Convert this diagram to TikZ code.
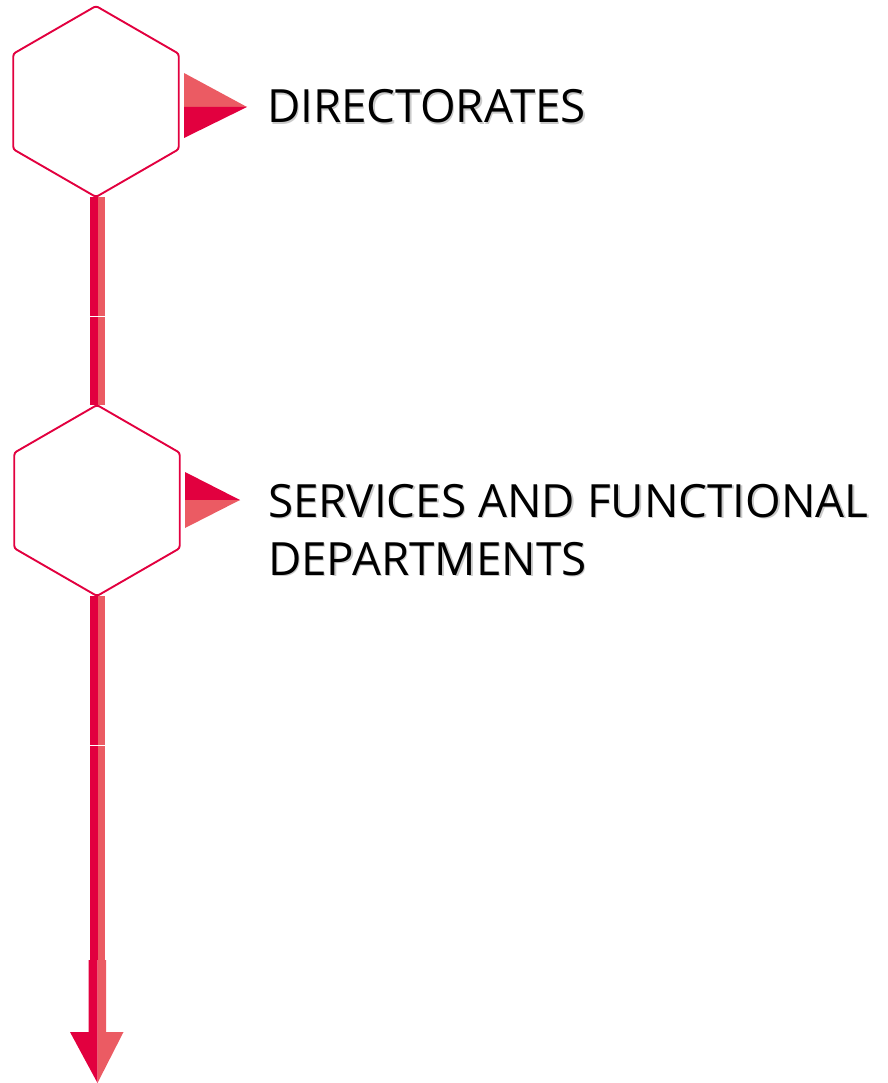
\documentclass[tikz,border=0pt]{standalone}
\usepackage{fontspec}
\setmainfont{Open Sans}
\usetikzlibrary{shapes.geometric,calc}
\definecolor{dk}{RGB}{226,0,63}
\definecolor{lt}{RGB}{235,91,99}
\tikzset{
  hexbox/.style={regular polygon, regular polygon sides=6, regular polygon rotate=30,
    minimum size=191pt, inner sep=0pt, outer sep=0pt, draw=dk, line width=1.9pt,
    rounded corners=2.5pt, fill=white},
  lbl/.style={inner sep=0pt, outer sep=0pt, anchor=base west, align=left,
    font=\fontsize{45.8}{58}\selectfont},
  shadowlbl/.style={lbl, text=black!35, opacity=0.6},
}
\begin{document}
\begin{tikzpicture}[x=1pt,y=-1pt]
\useasboundingbox (0,0) rectangle (887,1083);
% connectors (under hexagons)
\coordinate (h1b) at (97.5,197);
\coordinate (h2t) at (97.5,405);
\coordinate (h2b) at (97.5,596);
\coordinate (sh) at (97.5,960);
\coordinate (tip) at (97.5,1083);
% bar 1
\fill[dk] ($(h1b)+(-7.5,0)$) rectangle (h2t);
\fill[lt] (h1b) rectangle ($(h2t)+(7.5,0)$);
\draw[white,line width=0.8pt] (89,316.5) -- (106,316.5);
% bar 2
\fill[dk] ($(h2b)+(-7.5,0)$) rectangle (sh);
\fill[lt] (h2b) rectangle ($(sh)+(7.5,0)$);
\draw[white,line width=0.8pt] (89,745.5) -- (106,745.5);
% arrow
\fill[dk] (88.5,960) -- (97.7,960) -- (97.7,1032) -- (tip) -- (70,1032) -- (88.5,1032) -- cycle;
\fill[lt] (97.5,960) -- (106,960) -- (106,1032) -- (123.5,1032) -- (tip) -- cycle;
% hexagons
\node[hexbox] (h1) at (96,101.5) {};
\node[hexbox] (h2) at (97,500.5) {};
% flags
\fill[lt] (184,73) -- (247,107) -- (184,107) -- cycle;
\fill[dk] (184,107) -- (247,107) -- (184,138) -- cycle;
\fill[dk] (185,472) -- (240,500) -- (185,500) -- cycle;
\fill[lt] (185,500) -- (240,500) -- (185,528) -- cycle;
% labels
\node[shadowlbl] at (268.5,124.5) {DIRECTORATES};
\node[lbl] (t1) at (267,123) {DIRECTORATES};
\node[shadowlbl] at (269.5,576.5) {SERVICES AND FUNCTIONAL\\DEPARTMENTS};
\node[lbl] (t2) at (268,575) {SERVICES AND FUNCTIONAL\\DEPARTMENTS};
\end{tikzpicture}
\end{document}
